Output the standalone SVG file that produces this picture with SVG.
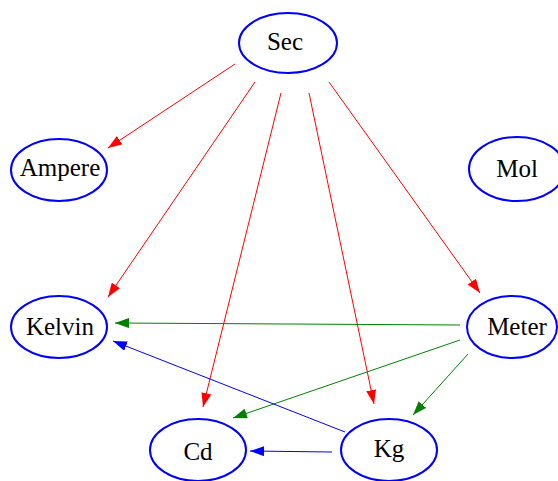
<svg xmlns="http://www.w3.org/2000/svg" width="558" height="481" viewBox="0 0 558 481">
<style>
.n ellipse{fill:none;stroke:#0000ff;stroke-width:2}
.n text{font-family:"Liberation Serif","Times New Roman",serif;font-size:25px;fill:#000;text-anchor:middle}
.e line{stroke-width:1;fill:none}
.r{stroke:#ff0000}
.g{stroke:#008000}
.b{stroke:#0000ff}
</style>
<defs>
<marker id="ar" markerUnits="userSpaceOnUse" markerWidth="14" markerHeight="10" refX="14" refY="5" orient="auto"><path d="M0,0 L14,5 L0,10 z" fill="#ff0000"/></marker>
<marker id="ag" markerUnits="userSpaceOnUse" markerWidth="14" markerHeight="10" refX="14" refY="5" orient="auto"><path d="M0,0 L14,5 L0,10 z" fill="#008000"/></marker>
<marker id="ab" markerUnits="userSpaceOnUse" markerWidth="14" markerHeight="10" refX="14" refY="5" orient="auto"><path d="M0,0 L14,5 L0,10 z" fill="#0000ff"/></marker>
</defs>
<rect width="558" height="481" fill="#fff"/>
<g id="edges" class="e">
<line class="r" x1="235" y1="64" x2="108" y2="148" marker-end="url(#ar)"/>
<line class="r" x1="255" y1="82" x2="108" y2="297" marker-end="url(#ar)"/>
<line class="r" x1="281" y1="93" x2="203" y2="407" marker-end="url(#ar)"/>
<line class="r" x1="309" y1="93" x2="374" y2="404" marker-end="url(#ar)"/>
<line class="r" x1="329" y1="82" x2="480" y2="293" marker-end="url(#ar)"/>
<line class="g" x1="460" y1="325" x2="115" y2="323" marker-end="url(#ag)"/>
<line class="g" x1="460" y1="340" x2="233" y2="418" marker-end="url(#ag)"/>
<line class="g" x1="468" y1="354" x2="413" y2="415" marker-end="url(#ag)"/>
<line class="b" x1="345" y1="432" x2="113" y2="341" marker-end="url(#ab)"/>
<line class="b" x1="332" y1="452" x2="250" y2="451" marker-end="url(#ab)"/>
</g>
<g id="Sec" class="n"><ellipse cx="288" cy="43" rx="49" ry="30"/><text x="285" y="50">Sec</text></g>
<g id="Ampere" class="n"><ellipse cx="59" cy="170" rx="48" ry="31"/><text x="60" y="176">Ampere</text></g>
<g id="Mol" class="n"><ellipse cx="517" cy="169" rx="48" ry="32"/><text x="517" y="177">Mol</text></g>
<g id="Kelvin" class="n"><ellipse cx="59" cy="327" rx="48" ry="31"/><text x="60" y="335">Kelvin</text></g>
<g id="Meter" class="n"><ellipse cx="512" cy="327" rx="45" ry="31"/><text x="517" y="335">Meter</text></g>
<g id="Cd" class="n"><ellipse cx="198" cy="450" rx="48" ry="31"/><text x="198" y="460">Cd</text></g>
<g id="Kg" class="n"><ellipse cx="389" cy="450" rx="48" ry="31"/><text x="389" y="457">Kg</text></g>
</svg>
